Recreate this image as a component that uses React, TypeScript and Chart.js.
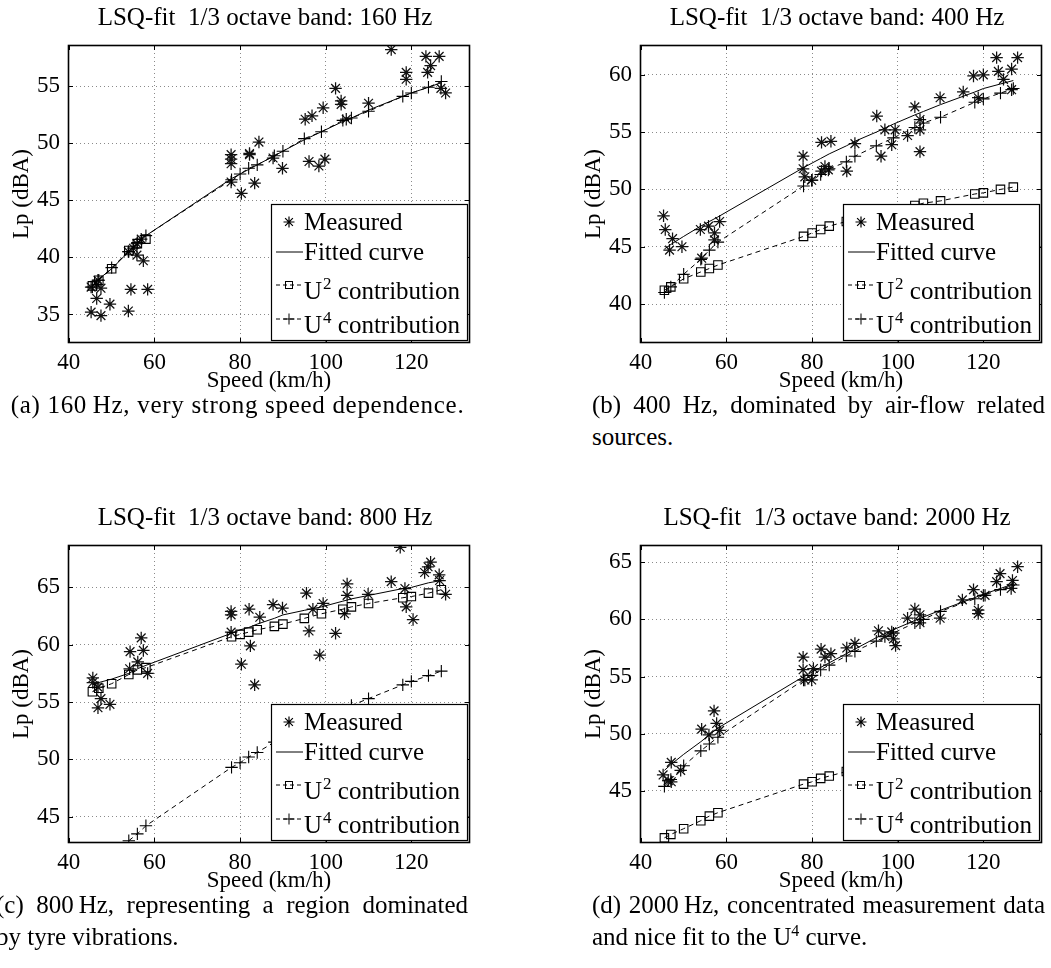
import React, { useEffect, useRef } from "react";
import { Chart, registerables } from "chart.js";

Chart.register(...registerables);

const FONT = "'Liberation Serif', 'Times New Roman', Times, serif";
const CANVAS_W = 479;
const CANVAS_H = 397;
const AREA = { left: 68, right: 470, top: 45, bottom: 343 };

// shared axis data
const xTickValues = [40, 60, 80, 100, 120];
const xMin = 39.8;
const xMax = 133.7;
const xTitle = "Speed (km/h)";
const yTitle = "Lp (dBA)";
const legendLabels: string[][] = [
  ["Measured"],
  ["Fitted curve"],
  ["U", "2", " contribution"],
  ["U", "4", " contribution"],
];

// speeds at which the curves (fit, U2, U4) are read
const curveSpeeds = [45.5, 47, 50, 54, 56, 58, 78, 80, 82, 84, 88, 90, 95, 99, 104, 106, 110, 118, 120, 124, 127];

// ---------- (a) 160 Hz ----------
const titleA = "LSQ-fit  1/3 octave band: 160 Hz";
const yRangeA = [32.5, 58.6];
const yTicksA = [35, 40, 45, 50, 55];
const measSpeedA = [115.3, 123.4, 126.5, 124.5, 123.8, 118.8, 118.8, 126.9, 128.0, 102.3, 103.6, 103.6, 110.0, 99.4, 96.8, 95.2, 104.8, 84.4, 82.2, 77.9, 77.9, 77.9, 87.7, 89.9, 96.1, 99.8, 98.4, 77.9, 80.3, 83.4, 82.2, 56.9, 55.9, 55.1, 53.9, 55.9, 57.4, 46.5, 45.2, 47.5, 54.5, 58.4, 46.5, 49.6, 45.2, 47.5, 53.9, 46.8];
const measLpA = [58.2, 57.6, 57.6, 56.8, 56.2, 56.2, 55.6, 54.8, 54.4, 54.8, 53.7, 53.4, 53.5, 53.1, 52.4, 52.1, 52.1, 50.1, 49.1, 49.0, 48.2, 48.6, 48.7, 47.8, 48.4, 48.6, 48.0, 46.6, 45.6, 46.5, 49.0, 41.6, 41.2, 40.8, 40.5, 40.2, 39.7, 37.6, 37.4, 37.3, 37.2, 37.2, 36.4, 35.9, 35.2, 34.9, 35.3, 38.0];
const fitA = [37.5, 38.1, 39.0, 40.5, 41.2, 41.9, 46.9, 47.3, 47.7, 48.1, 48.9, 49.3, 50.3, 51.0, 51.9, 52.2, 52.9, 54.1, 54.4, 54.9, 55.3];
const u2A = [37.5, 38.0, 39.0, 40.6, 41.2, 41.6, null, null, null, null, null, null, null, null, null, null, null, null, null, null, null];
const u4A = [37.4, 38.0, 39.1, 40.5, 41.3, 41.9, 46.8, 47.3, 47.8, 48.1, 48.9, 49.3, 50.4, 51.0, 52.0, 52.2, 52.8, 54.1, 54.4, 54.9, 55.4];

// ---------- (b) 400 Hz ----------
const titleB = "LSQ-fit  1/3 octave band: 400 Hz";
const yRangeB = [36.6, 62.6];
const yTicksB = [40, 45, 50, 55, 60];
const measSpeedB = [45.3, 45.7, 47.4, 46.7, 49.6, 53.9, 55.8, 58.4, 57.2, 57.2, 54.2, 77.9, 77.9, 78.3, 79.9, 82.2, 84.4, 83.0, 82.2, 83.8, 88.1, 90.0, 95.1, 97.0, 96.1, 99.4, 98.6, 102.3, 104.0, 105.2, 105.2, 105.2, 109.9, 115.3, 117.7, 120.0, 118.8, 123.1, 123.5, 124.7, 126.6, 128.0, 126.6];
const measLpB = [47.7, 46.5, 45.7, 44.7, 45.0, 46.5, 46.8, 47.2, 46.2, 45.6, 44.0, 52.9, 51.8, 51.1, 50.8, 54.1, 54.2, 52.0, 51.6, 51.7, 51.6, 54.0, 56.4, 55.2, 52.9, 55.2, 53.9, 54.7, 57.2, 56.1, 55.2, 53.3, 58.0, 58.5, 59.9, 60.0, 58.0, 61.5, 60.3, 59.6, 60.5, 61.5, 58.7];
const fitB = [44.8, 45.2, 45.9, 46.8, 47.2, 47.6, 51.9, 52.3, 52.7, 53.1, 53.8, 54.2, 55.0, 55.7, 56.5, 56.8, 57.4, 58.5, 58.8, 59.2, 59.5];
const u2B = [41.2, 41.5, 42.2, 42.8, 43.1, 43.4, 45.9, 46.2, 46.5, 46.8, 47.2, 47.5, 47.9, 48.3, 48.6, 48.8, 49.0, 49.6, 49.7, 50.0, 50.2];
const u4B = [41.0, 41.5, 42.6, 43.9, 44.7, 45.4, 50.3, 50.8, 51.3, 51.8, 52.4, 52.9, 53.8, 54.5, 55.4, 55.8, 56.3, 57.6, 57.9, 58.4, 58.8];

// ---------- (c) 800 Hz ----------
const titleC = "LSQ-fit  1/3 octave band: 800 Hz";
const yRangeC = [42.7, 68.7];
const yTicksC = [45, 50, 55, 60, 65];
const measSpeedC = [117.4, 124.5, 123.9, 123.1, 126.5, 115.3, 126.6, 118.5, 128.0, 118.8, 120.4, 105.0, 105.0, 104.4, 109.9, 95.5, 99.4, 97.0, 96.1, 102.3, 98.6, 87.7, 89.9, 82.1, 84.6, 77.9, 77.9, 77.9, 82.4, 80.3, 83.4, 56.9, 57.4, 54.3, 56.1, 54.2, 58.4, 45.6, 45.6, 46.8, 47.5, 46.8, 49.6];
const measLpC = [68.5, 67.2, 66.8, 66.3, 66.1, 65.5, 65.6, 64.9, 64.4, 63.3, 62.2, 65.3, 64.3, 62.7, 64.4, 64.5, 63.6, 63.1, 61.2, 61.0, 59.1, 63.5, 63.2, 63.1, 62.4, 62.9, 62.6, 61.1, 59.9, 58.3, 56.5, 60.6, 59.5, 59.4, 58.5, 57.9, 57.5, 57.1, 56.7, 56.3, 55.3, 54.5, 54.8];
const fitC = [56.5, 56.7, 57.0, 57.5, 57.9, 58.2, 61.0, 61.3, 61.5, 61.8, 62.3, 62.6, 63.0, 63.3, 63.8, 64.0, 64.3, 64.9, 65.0, 65.4, 65.6];
const u2C = [55.9, 56.2, 56.6, 57.4, 57.8, 58.0, 60.7, 60.9, 61.1, 61.3, 61.6, 61.8, 62.3, 62.7, 63.1, 63.3, 63.6, 64.1, 64.2, 64.5, 64.8];
const u4C = [null, null, null, 42.9, 43.5, 44.2, 49.3, 49.7, 50.2, 50.6, 51.5, 51.9, 52.8, 53.5, 54.3, 54.7, 55.3, 56.5, 56.8, 57.3, 57.7];

// ---------- (d) 2000 Hz ----------
const titleD = "LSQ-fit  1/3 octave band: 2000 Hz";
const yRangeD = [40.45, 66.5];
const yTicksD = [45, 50, 55, 60, 65];
const measSpeedD = [128.0, 123.9, 126.8, 123.1, 126.5, 117.7, 120.4, 118.8, 118.8, 115.1, 104.0, 105.2, 105.2, 109.9, 102.3, 95.5, 98.6, 97.0, 99.5, 99.0, 90.0, 88.1, 82.1, 84.4, 83.0, 77.9, 77.9, 79.9, 78.3, 80.3, 57.1, 57.7, 58.4, 54.2, 55.9, 47.1, 45.2, 49.3, 46.4, 47.1];
const measLpD = [64.6, 64.0, 63.4, 63.3, 62.7, 62.6, 62.1, 60.8, 60.5, 61.7, 60.9, 60.4, 59.7, 60.1, 60.1, 59.0, 58.9, 58.5, 57.7, 58.3, 57.9, 57.5, 57.4, 57.0, 56.7, 56.7, 55.6, 54.7, 54.7, 55.7, 52.0, 50.9, 50.3, 50.4, 49.9, 47.5, 46.4, 46.8, 45.9, 45.8];
const fitD = [46.8, 47.3, 48.2, 49.3, 49.9, 50.5, 55.0, 55.4, 55.8, 56.2, 57.0, 57.4, 58.4, 59.1, 59.9, 60.2, 60.8, 61.9, 62.2, 62.7, 63.1];
const u2D = [40.9, 41.2, 41.7, 42.4, 42.8, 43.1, 45.6, 45.8, 46.1, 46.3, 46.7, 46.9, 47.3, 47.7, 48.1, 48.3, 48.6, 49.2, 49.3, 49.6, 49.8];
const u4D = [45.4, 46.0, 47.2, 48.5, 49.1, 49.7, 54.7, 55.1, 55.6, 56.0, 56.8, 57.2, 58.1, 58.8, 59.7, 60.0, 60.7, 61.8, 62.1, 62.6, 63.0];

const panels = [
  { id: "a", left: 0, top: 0, title: titleA, yRange: yRangeA, yTicks: yTicksA, measX: measSpeedA, measY: measLpA, fit: fitA, u2: u2A, u4: u4A },
  { id: "b", left: 572, top: 0, title: titleB, yRange: yRangeB, yTicks: yTicksB, measX: measSpeedB, measY: measLpB, fit: fitB, u2: u2B, u4: u4B },
  { id: "c", left: 0, top: 500, title: titleC, yRange: yRangeC, yTicks: yTicksC, measX: measSpeedC, measY: measLpC, fit: fitC, u2: u2C, u4: u4C },
  { id: "d", left: 572, top: 500, title: titleD, yRange: yRangeD, yTicks: yTicksD, measX: measSpeedD, measY: measLpD, fit: fitD, u2: u2D, u4: u4D },
];

function drawStar(ctx: CanvasRenderingContext2D, x: number, y: number, r: number) {
  ctx.beginPath();
  for (let k = 0; k < 4; k++) {
    const ang = (k * Math.PI) / 4;
    const dx = Math.cos(ang) * r;
    const dy = Math.sin(ang) * r;
    ctx.moveTo(x - dx, y - dy);
    ctx.lineTo(x + dx, y + dy);
  }
  ctx.stroke();
}

function makeDecor(p: any) {
  return {
    id: "panelDecor",
    afterDatasetsDraw(chart: any) {
      const { ctx, chartArea: a, scales } = chart;
      ctx.save();
      ctx.strokeStyle = "#000";
      ctx.lineWidth = 1;
      ctx.setLineDash([]);
      // inward tick marks
      ctx.beginPath();
      for (const v of xTickValues) {
        const px = Math.round(scales.x.getPixelForValue(v)) + 0.5;
        ctx.moveTo(px, a.bottom);
        ctx.lineTo(px, a.bottom - 5);
        ctx.moveTo(px, a.top);
        ctx.lineTo(px, a.top + 5);
      }
      for (const v of p.yTicks) {
        const py = Math.round(scales.y.getPixelForValue(v)) + 0.5;
        ctx.moveTo(a.left, py);
        ctx.lineTo(a.left + 5, py);
        ctx.moveTo(a.right, py);
        ctx.lineTo(a.right - 5, py);
      }
      ctx.stroke();
      // axes box
      ctx.lineWidth = 1.6;
      ctx.strokeRect(a.left + 0.5, a.top + 0.5, a.right - a.left - 1, a.bottom - a.top - 1);

      // legend
      const bw = 196;
      const bh = 136;
      const bx = Math.round(a.right - 3 - bw);
      const by = Math.round(a.bottom - 3 - bh);
      ctx.fillStyle = "#fff";
      ctx.fillRect(bx, by, bw, bh);
      ctx.lineWidth = 1.2;
      ctx.strokeRect(bx + 0.5, by + 0.5, bw, bh);
      const sampleY = [18, 48, 81, 115];
      const baseY = [26, 56, 95, 129];
      ctx.lineWidth = 1;
      ctx.fillStyle = "#000";
      ctx.textAlign = "left";
      ctx.textBaseline = "alphabetic";
      legendLabels.forEach((parts, i) => {
        const sy = by + sampleY[i];
        const x0 = bx + 5;
        const x1 = bx + 32;
        const mx = bx + 18;
        if (i === 0) {
          ctx.lineWidth = 1.2;
          drawStar(ctx, mx, sy, 5.5);
          ctx.lineWidth = 1;
        } else if (i === 1) {
          ctx.beginPath();
          ctx.moveTo(x0, sy);
          ctx.lineTo(x1, sy);
          ctx.stroke();
        } else {
          ctx.setLineDash([4, 3]);
          ctx.beginPath();
          ctx.moveTo(x0, sy);
          ctx.lineTo(x1, sy);
          ctx.stroke();
          ctx.setLineDash([]);
          if (i === 2) {
            ctx.strokeRect(mx - 3.5, sy - 3.5, 7, 7);
          } else {
            ctx.beginPath();
            ctx.moveTo(mx - 5.5, sy);
            ctx.lineTo(mx + 5.5, sy);
            ctx.moveTo(mx, sy - 5.5);
            ctx.lineTo(mx, sy + 5.5);
            ctx.stroke();
          }
        }
        let tx = bx + 33;
        const ty = by + baseY[i];
        ctx.font = `25px ${FONT}`;
        ctx.fillText(parts[0], tx, ty);
        tx += ctx.measureText(parts[0]).width;
        if (parts.length > 1) {
          ctx.font = `17px ${FONT}`;
          ctx.fillText(parts[1], tx + 1, ty - 10.5);
          tx += ctx.measureText(parts[1]).width + 1;
          ctx.font = `25px ${FONT}`;
          ctx.fillText(parts[2], tx, ty);
        }
      });
      ctx.restore();
    },
    afterDraw(chart: any) {
      const { ctx } = chart;
      ctx.save();
      ctx.font = `25px ${FONT}`;
      ctx.fillStyle = "#000";
      ctx.textAlign = "center";
      ctx.textBaseline = "middle";
      ctx.fillText(p.title, 265, 18);
      ctx.restore();
    },
  };
}

function Panel({ p }: { p: any }) {
  const ref = useRef<HTMLCanvasElement | null>(null);
  useEffect(() => {
    if (!ref.current) return;
    const pts = (xs: number[], ys: (number | null)[]) => xs.map((x, i) => ({ x, y: ys[i] }));
    const tickFont = { family: FONT, size: 23 };
    const chart = new Chart(ref.current, {
      type: "line",
      data: {
        datasets: [
          {
            label: "U4 contribution",
            data: pts(curveSpeeds, p.u4),
            borderColor: "#000",
            borderWidth: 1,
            borderDash: [5, 4],
            pointStyle: "cross",
            pointRadius: 6.2,
            pointBorderColor: "#000",
            pointBorderWidth: 1.1,
            pointBackgroundColor: "rgba(0,0,0,0)",
            fill: false,
            tension: 0,
          },
          {
            label: "U2 contribution",
            data: pts(curveSpeeds, p.u2),
            borderColor: "#000",
            borderWidth: 1,
            borderDash: [5, 4],
            pointStyle: "rect",
            pointRadius: 6,
            pointBorderColor: "#000",
            pointBorderWidth: 1.1,
            pointBackgroundColor: "rgba(0,0,0,0)",
            fill: false,
            tension: 0,
          },
          {
            label: "Fitted curve",
            data: pts(curveSpeeds, p.fit),
            borderColor: "#000",
            borderWidth: 1,
            pointRadius: 0,
            fill: false,
            tension: 0,
          },
          {
            label: "Measured",
            data: pts(p.measX, p.measY),
            showLine: false,
            pointStyle: "star",
            pointRadius: 6.2,
            pointBorderColor: "#111",
            pointBorderWidth: 1.25,
            pointBackgroundColor: "rgba(0,0,0,0)",
          },
        ],
      },
      options: {
        responsive: false,
        animation: false,
        devicePixelRatio: 1,
        events: [],
        layout: { padding: { left: 0, top: AREA.top, right: CANVAS_W - AREA.right, bottom: 0 } },
        plugins: { legend: { display: false }, tooltip: { enabled: false }, title: { display: false } },
        scales: {
          x: {
            type: "linear",
            min: xMin,
            max: xMax,
            bounds: "data",
            afterBuildTicks: (s: any) => {
              s.ticks = xTickValues.map((v) => ({ value: v }));
            },
            afterFit: (s: any) => {
              s.height = CANVAS_H - AREA.bottom;
            },
            ticks: { font: tickFont, color: "#000", padding: 6, maxRotation: 0, autoSkip: false },
            grid: { color: "#8a8a8a", lineWidth: 1, drawTicks: false },
            border: { display: false, dash: [1, 3] },
            title: { display: true, text: xTitle, font: tickFont, color: "#000", padding: { top: 0, bottom: 2 } },
          },
          y: {
            type: "linear",
            min: p.yRange[0],
            max: p.yRange[1],
            bounds: "data",
            afterBuildTicks: (s: any) => {
              s.ticks = p.yTicks.map((v: number) => ({ value: v }));
            },
            afterFit: (s: any) => {
              s.width = AREA.left;
            },
            ticks: { font: tickFont, color: "#000", padding: 8, autoSkip: false },
            grid: { color: "#8a8a8a", lineWidth: 1, drawTicks: false },
            border: { display: false, dash: [1, 3] },
            title: { display: true, text: yTitle, font: tickFont, color: "#000", padding: { top: 8, bottom: 0 } },
          },
        },
      },
      plugins: [makeDecor(p)],
    } as any);
    return () => chart.destroy();
  }, [p]);
  return (
    <canvas
      ref={ref}
      width={CANVAS_W}
      height={CANVAS_H}
      style={{ position: "absolute", left: p.left, top: p.top, width: CANVAS_W, height: CANVAS_H }}
    />
  );
}

const capStyle: React.CSSProperties = {
  position: "absolute",
  fontFamily: FONT,
  fontSize: 25,
  lineHeight: "32px",
  height: 32,
  color: "#000",
  whiteSpace: "nowrap",
};
const justify: React.CSSProperties = { textAlign: "justify", textAlignLast: "justify" as any };

export default function App() {
  return (
    <div style={{ position: "absolute", left: 0, top: 0, width: 1051, height: 968, background: "#fff", overflow: "hidden" }}>
      {panels.map((p) => (
        <Panel key={p.id} p={p} />
      ))}
      <div style={{ ...capStyle, left: 0, width: 475, top: 389, textAlign: "center", letterSpacing: "0.7px" }}>
        (a) 160{"\u2009"}Hz, very strong speed dependence.
      </div>
      <div style={{ ...capStyle, ...justify, left: 592, width: 453, top: 389 }}>(b) 400 Hz, dominated by air-flow related</div>
      <div style={{ ...capStyle, left: 592, top: 421 }}>sources.</div>
      <div style={{ ...capStyle, ...justify, left: -4, width: 472, top: 889 }}>
        (c) 800{"\u2009"}Hz, representing a region dominated
      </div>
      <div style={{ ...capStyle, left: -4, top: 921 }}>by tyre vibrations.</div>
      <div style={{ ...capStyle, ...justify, left: 592, width: 453, top: 889 }}>
        (d) 2000{"\u2009"}Hz, concentrated measurement data
      </div>
      <div style={{ ...capStyle, left: 592, top: 921 }}>
        and nice fit to the U<sup style={{ fontSize: 16, lineHeight: 0 }}>4</sup> curve.
      </div>
    </div>
  );
}
